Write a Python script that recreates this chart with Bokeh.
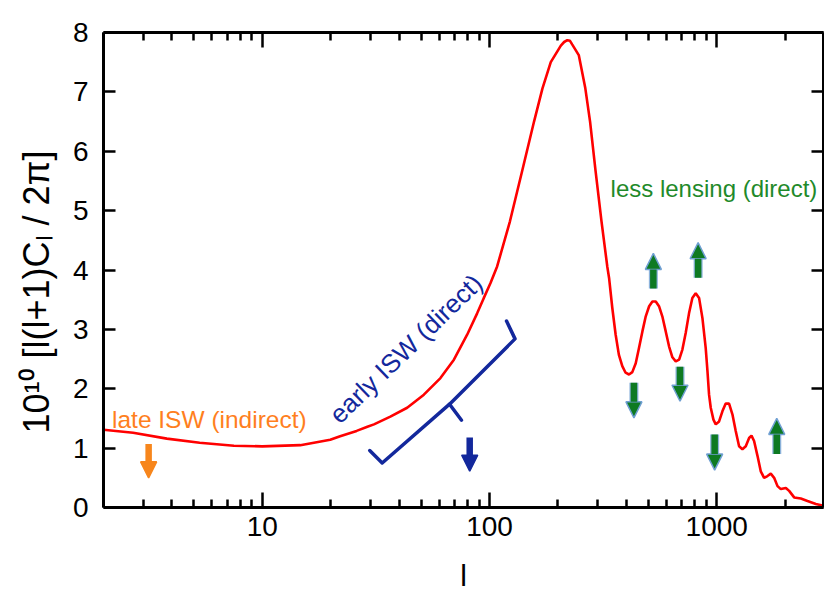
import math
from bokeh.plotting import figure
from bokeh.models import (FixedTicker, LogAxis, LinearAxis, Label, Arrow, NormalHead,
                          PrintfTickFormatter, CustomJSTickFormatter, Title)
from bokeh.embed import file_html
from bokeh.resources import INLINE

# ---------------- data ----------------
ell = [2, 2.7, 3.8, 5.3, 7.5, 10, 14.7, 19.9, 22, 26, 29, 31, 36.6, 43.4, 51.4, 60.8,
       69.7, 79.7, 88.2, 94.4, 101, 108, 123, 139, 157, 171, 186, 206, 213, 220, 226,
       231, 247, 264, 277, 293, 311, 330, 336, 347, 359, 371, 384, 397, 411, 425, 440,
       455, 471, 487, 504, 521, 539, 557, 576, 596, 617, 638, 660, 683, 706, 730, 755,
       781, 808, 836, 865, 894, 910, 925, 941, 967, 990, 1024, 1059, 1095, 1133, 1172,
       1212, 1254, 1297, 1342, 1388, 1422, 1460, 1511, 1562, 1616, 1672, 1729, 1789,
       1851, 1914, 2014, 2083, 2191, 2344, 2508, 2730, 2950]
dl = [1.31, 1.26, 1.16, 1.09, 1.04, 1.03, 1.05, 1.14, 1.20, 1.29, 1.36, 1.40, 1.53,
      1.68, 1.90, 2.18, 2.49, 2.91, 3.27, 3.53, 3.78, 4.06, 4.82, 5.66, 6.50, 7.06,
      7.50, 7.78, 7.84, 7.87, 7.86, 7.80, 7.62, 7.06, 6.50, 5.66, 4.82, 4.05, 3.86,
      3.36, 2.91, 2.57, 2.38, 2.27, 2.24, 2.28, 2.43, 2.69, 2.97, 3.22, 3.39, 3.47,
      3.47, 3.39, 3.22, 2.97, 2.71, 2.53, 2.46, 2.49, 2.66, 2.94, 3.27, 3.53, 3.61,
      3.53, 3.19, 2.69, 2.30, 1.90, 1.68, 1.48, 1.40, 1.45, 1.62, 1.75, 1.75, 1.57,
      1.29, 1.03, 0.98, 1.03, 1.17, 1.21, 1.12, 0.87, 0.61, 0.50, 0.53, 0.57, 0.50,
      0.36, 0.31, 0.33, 0.28, 0.17, 0.15, 0.11, 0.06, 0.03]

x_major = [10, 100, 1000]
x_minor = [2, 3, 4, 5, 6, 7, 8, 9, 20, 30, 40, 50, 60, 70, 80, 90,
           200, 300, 400, 500, 600, 700, 800, 900, 2000, 3000]
y_major = [0, 1, 2, 3, 4, 5, 6, 7, 8]

# annotation arrows: (l, start value, tip value)
orange_arrows = [(3.16, 1.07, 0.50)]
blue_arrows = [(81.8, 1.18, 0.61)]
green_arrows = [(432, 2.10, 1.51), (689, 2.37, 1.79), (979, 1.23, 0.63),
                (1837, 0.90, 1.50), (526, 3.69, 4.28), (828, 3.87, 4.46)]
# bracket for early ISW
bracket_x = [[29.7, 33.7, 66.7, 75.3], [66.7, 129.5, 118.8]]
bracket_y = [[0.96, 0.75, 1.74, 1.47], [1.74, 2.84, 3.14]]

# ---------------- styles ----------------
FONT = "Liberation Sans"
RED = "#ff0000"
ORANGE = "#ff7f1e"
ORANGE_ARROW = "#f7861c"
BLUE = "#13289c"
GREEN = "#1f8a2a"
GREEN_ARROW = "#0e7a22"
OUTLINE = "#6f9fd2"

X0, X1 = 2, 2950

p = figure(width=824, height=594, x_axis_type="log", x_range=(X0, X1), y_range=(0, 8),
           output_backend="svg", toolbar_location=None,
           min_border_left=103, min_border_right=1, min_border_top=32, min_border_bottom=87)
p.grid.visible = False
p.outline_line_color = None
p.background_fill_color = "white"

xt = FixedTicker(ticks=x_major, minor_ticks=x_minor)
yt = FixedTicker(ticks=y_major, minor_ticks=[])
blank = CustomJSTickFormatter(code="return ''")


def style_axis(ax, major_in, minor_in):
    ax.axis_line_width = 3
    ax.axis_line_color = "black"
    ax.major_tick_in = major_in
    ax.major_tick_out = 0
    ax.minor_tick_in = minor_in
    ax.minor_tick_out = 0
    ax.major_tick_line_width = 2.5
    ax.minor_tick_line_width = 2.5
    ax.major_tick_line_color = "black"
    ax.minor_tick_line_color = "black"
    ax.major_label_text_font = FONT
    ax.major_label_text_font_size = "28px"
    ax.major_label_text_color = "black"


xa = p.xaxis[0]
xa.ticker = xt
xa.formatter = PrintfTickFormatter(format="%d")
style_axis(xa, 15, 8)
xa.major_label_standoff = 9
xa.axis_label = "l"
xa.axis_label_text_font = FONT
xa.axis_label_text_font_size = "30px"
xa.axis_label_text_font_style = "normal"
xa.axis_label_text_color = "black"
xa.axis_label_standoff = 20

ya = p.yaxis[0]
ya.ticker = yt
style_axis(ya, 12, 0)
ya.major_label_standoff = 15
ya.major_label_text_baseline = "alphabetic"

top = LogAxis(ticker=xt, formatter=blank)
style_axis(top, 15, 8)
top.major_label_standoff = 0
p.add_layout(top, "above")

right = LinearAxis(ticker=yt, formatter=blank)
style_axis(right, 12, 0)
right.major_label_standoff = 0
p.add_layout(right, "right")

# y-axis title
p.add_layout(Title(text="10\u00b9\u2070 [l(l+1)C\u2097 / 2\u03c0]", align="left", offset=74,
                   text_font=FONT, text_font_size="36px", text_font_style="normal",
                   text_color="black", standoff=25), "left")

# curve
p.line(ell, dl, line_color=RED, line_width=2.6)

# bracket
p.multi_line(bracket_x, bracket_y, line_color=BLUE, line_width=3.5, line_join="round",
             line_cap="round")

# arrows
HEAD = 13  # px
PX_PER_UNIT = 475 / 8.0


def add_arrows(items, color, outline):
    for (x, ys, ye) in items:
        sgn = 1 if ye > ys else -1
        if outline:
            base = ye - sgn * HEAD / PX_PER_UNIT
            p.segment(x0=[x], y0=[ys], x1=[x], y1=[base], line_color=outline,
                      line_width=9, line_alpha=0.8)
        p.add_layout(Arrow(end=NormalHead(size=HEAD + 3, fill_color=color,
                                          line_color=outline or color, line_width=1.5),
                           x_start=x, y_start=ys, x_end=x, y_end=ye,
                           line_color=color, line_width=6.5))


add_arrows(orange_arrows, ORANGE_ARROW, None)
add_arrows(blue_arrows, BLUE, None)
add_arrows(green_arrows, GREEN_ARROW, OUTLINE)

# annotation texts
p.add_layout(Label(x=2.18, y=1.49, text="late ISW (indirect)", text_font=FONT,
                   text_font_size="24.5px", text_color=ORANGE, text_baseline="alphabetic"))
p.add_layout(Label(x=341, y=5.37, text="less lensing (direct)", text_font=FONT,
                   text_font_size="24px", text_color=GREEN, text_baseline="alphabetic"))
p.add_layout(Label(x=20.6, y=1.50, text="early ISW (direct)", text_font=FONT,
                   text_font_size="26px", text_color=BLUE, text_baseline="alphabetic",
                   angle=math.radians(44)))

open("out.html", "w").write(file_html(p, INLINE))
